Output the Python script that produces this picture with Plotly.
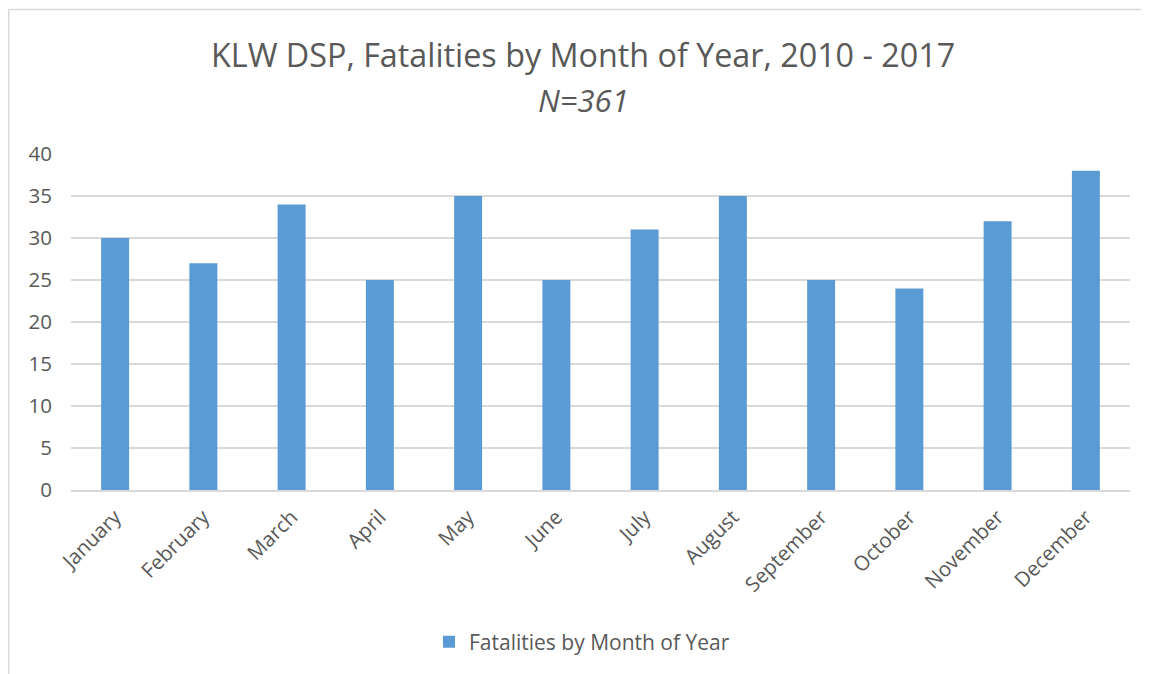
import plotly.graph_objects as go

months = ["January", "February", "March", "April", "May", "June", "July",
          "August", "September", "October", "November", "December"]
fatalities = [30, 27, 34, 25, 35, 25, 31, 35, 25, 24, 32, 38]
series_name = "Fatalities by Month of Year"
title_text = "KLW DSP, Fatalities by Month of Year, 2010 - 2017"
subtitle_text = "N=361"
y_ticks = [0, 5, 10, 15, 20, 25, 30, 35, 40]

# page body has an 8px margin, so work in figure pixels = window pixels - 8
OFF = 8
W, H = 1149 - OFF, 674 - OFF
L, R = 71 - OFF, 19
T, B = 154 - OFF, 674 - 490
pw, ph = W - L - R, H - T - B

def px_x(x):
    return (x - OFF - L) / pw

def px_y(y):
    return (H - B - (y - OFF)) / ph

font_family = "Open Sans, Liberation Sans, sans-serif"
grey = "#595959"

fig = go.Figure()
fig.add_trace(go.Bar(x=months, y=fatalities, name=series_name,
                     marker=dict(color="#5b9bd5", line=dict(width=0))))

fig.update_layout(
    width=W, height=H,
    margin=dict(l=L, r=R, t=T, b=B),
    paper_bgcolor="white", plot_bgcolor="white",
    bargap=0.683,
    showlegend=True,
    legend=dict(orientation="h", x=px_x(582), xanchor="center", y=px_y(642), yanchor="middle",
                font=dict(family=font_family, size=21, color=grey)),
    font=dict(family=font_family, color=grey),
    xaxis=dict(tickangle=-45, tickfont=dict(size=20.5, color=grey), showgrid=False,
               showline=True, linecolor="#d9d9d9", linewidth=2, ticks="",
               ticklabelstandoff=5),
    yaxis=dict(range=[0, 40], tickvals=y_ticks, tickfont=dict(size=20.5, color=grey),
               showgrid=True, gridcolor="#d9d9d9", gridwidth=2, zeroline=False,
               showline=False, ticks="", ticklabelstandoff=18),
    annotations=[
        dict(text=title_text, xref="paper", yref="paper", x=px_x(583), y=px_y(54),
             xanchor="center", yanchor="middle", showarrow=False,
             font=dict(family=font_family, size=32.3, color=grey)),
        dict(text="<i>" + subtitle_text + "</i>", xref="paper", yref="paper", x=px_x(583), y=px_y(100),
             xanchor="center", yanchor="middle", showarrow=False,
             font=dict(family=font_family, size=31, color=grey)),
    ],
    shapes=[dict(type="rect", xref="paper", yref="paper",
                 x0=px_x(8.8), x1=px_x(1180), y0=px_y(700), y1=px_y(9.6),
                 line=dict(color="#d9d9d9", width=1.5), fillcolor="rgba(0,0,0,0)", layer="below")],
)

fig.write_html("out.html")
